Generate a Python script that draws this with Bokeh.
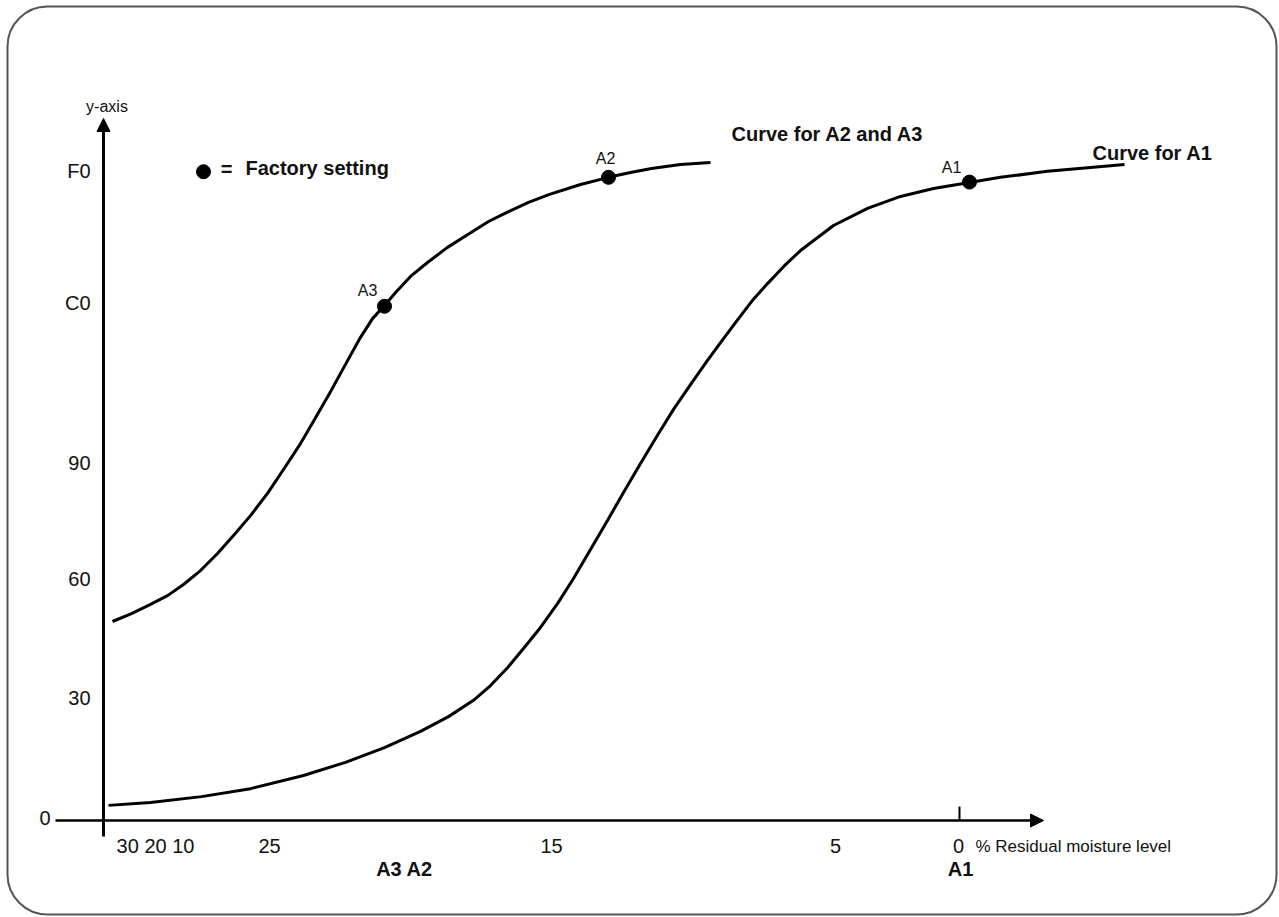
from bokeh.plotting import figure
from bokeh.models import Range1d, Arrow, NormalHead, ColumnDataSource
from bokeh.core.properties import value
from bokeh.embed import file_html
from bokeh.resources import INLINE

# ---------------- data (schematic units: x = position along axis, y = value) ----
curve_a23_x = [0.9, 2.8, 4.7, 6.4, 8.0, 9.7, 11.4, 13.0, 14.7, 16.4, 18.0, 19.7, 21.0,
               22.6, 24.2, 25.7, 26.9, 28.1, 29.3, 30.7, 32.4, 34.4, 36.4, 38.5, 40.5,
               42.5, 44.6, 47.7, 50.5, 52.7, 54.8, 57.7, 60.7]
curve_a23_y = [50.0, 52.0, 54.3, 56.5, 59.3, 62.8, 67.1, 71.6, 76.6, 82.2, 88.2, 94.7, 100.3,
               107.3, 114.6, 121.4, 126.1, 129.4, 132.9, 136.7, 140.2, 144.0, 147.2, 150.5, 153.0,
               155.3, 157.3, 159.8, 161.6, 162.8, 163.8, 164.8, 165.3]

curve_a1_x = [0.5, 4.7, 9.8, 14.7, 20.0, 24.2, 28.1, 31.7, 34.5, 37.0, 38.7, 40.4, 42.0,
              43.7, 45.4, 47.0, 48.7, 50.4, 52.0, 53.7, 55.4, 57.0, 58.7, 60.4, 62.0,
              63.5, 64.9, 66.4, 68.1, 69.7, 73.0, 76.4, 79.7, 83.0, 86.6, 89.7, 94.4,
              98.7, 102.1]
curve_a1_y = [3.8, 4.5, 6.0, 8.0, 11.3, 14.6, 18.3, 22.4, 26.1, 30.2, 33.9, 38.4, 43.2,
              48.5, 54.5, 60.8, 68.1, 75.4, 82.4, 89.7, 96.8, 103.3, 109.5, 115.6, 121.1,
              126.1, 130.7, 134.9, 139.4, 143.2, 149.5, 153.8, 156.8, 158.8, 160.3, 161.6, 163.1,
              164.1, 164.8]

setting_names = ["A3", "A2", "A1"]
setting_x = [28.1, 50.5, 86.6]
setting_y = [129.2, 161.6, 160.4]

y_tick_vals = [0.75, 30.9, 60.8, 89.9, 130.0, 163.3]
y_tick_labels = ["0", "30", "60", "90", "C0", "F0"]

x_tick_vals = [5.2, 16.6, 44.8, 73.2, 85.5]
x_tick_labels = ["30 20 10", "25", "15", "5", "0"]

X0, X1 = -10.3, 117.6
Y0, Y1 = (820 - 917) / 3.98, 820 / 3.98

FONT = value("Liberation Sans")
INK = "#111111"

p = figure(width=1279, height=917, x_range=Range1d(X0, X1), y_range=Range1d(Y0, Y1),
           min_border=0, toolbar_location=None, output_backend="svg")
p.axis.visible = False
p.grid.visible = False
p.outline_line_color = None
p.background_fill_color = "white"
p.border_fill_color = "white"

# rounded frame
p.quad(left=[-9.6], right=[117.3], top=[204.5], bottom=[-23.6], border_radius=40,
       fill_color=None, line_color="#555555", line_width=2)

# axes with arrows
p.add_layout(Arrow(end=NormalHead(size=13, fill_color="black", line_color="black", line_width=1),
                   x_start=0, y_start=-4.0, x_end=0, y_end=176.4,
                   line_width=3, line_color="black"))
p.add_layout(Arrow(end=NormalHead(size=13, fill_color="black", line_color="black", line_width=1),
                   x_start=-4.8, y_start=0, x_end=94.0, y_end=0,
                   line_width=2.5, line_color="black"))
p.segment(x0=[85.6], y0=[0], x1=[85.6], y1=[3.5], line_width=2, line_color="black")

# curves
p.line(curve_a23_x, curve_a23_y, line_width=3, line_color="black", line_join="round")
p.line(curve_a1_x, curve_a1_y, line_width=3, line_color="black", line_join="round")

# factory setting points
p.scatter(setting_x, setting_y, size=14, color="black")
p.text(x=[26.4, 50.2, 84.8], y=[133.2, 166.3, 164.1], text=setting_names,
       text_font=FONT, text_font_size="16px", text_color=INK,
       text_align="center", text_baseline="middle")

# y tick labels
src_y = ColumnDataSource(dict(x=[-5.3, -1.3, -1.3, -1.3, -1.3, -1.3], y=y_tick_vals, t=y_tick_labels))
p.text(x="x", y="y", text="t", source=src_y, text_font=FONT, text_font_size="20px",
       text_color=INK, text_align="right", text_baseline="middle")

# x tick labels
p.text(x=x_tick_vals, y=[-6.5] * len(x_tick_vals), text=x_tick_labels, text_font=FONT,
       text_font_size="20px", text_color=INK, text_align="center", text_baseline="middle")
p.text(x=[87.2], y=[-6.5], text=["% Residual moisture level"], text_font=FONT,
       text_font_size="17px", text_color=INK, text_align="left", text_baseline="middle")
p.text(x=[30.1, 85.7], y=[-12.1, -12.1], text=["A3 A2", "A1"], text_font=FONT,
       text_font_size="20px", text_font_style="bold", text_color=INK,
       text_align="center", text_baseline="middle")

# y-axis title
p.text(x=[0.35], y=[179.3], text=["y-axis"], text_font=FONT, text_font_size="16px",
       text_color=INK, text_align="center", text_baseline="middle")

# legend
p.scatter([10.0], [163.0], size=14, color="black")
p.text(x=[12.3], y=[163.6], text=["="], text_font=FONT, text_font_size="20px",
       text_font_style="bold", text_color=INK, text_align="center", text_baseline="middle")
p.text(x=[14.2], y=[164.0], text=["Factory setting"], text_font=FONT, text_font_size="20px",
       text_font_style="bold", text_color=INK, text_align="left", text_baseline="middle")

# curve titles
p.text(x=[62.8], y=[172.4], text=["Curve for A2 and A3"], text_font=FONT, text_font_size="20px",
       text_font_style="bold", text_color=INK, text_align="left", text_baseline="middle")
p.text(x=[98.9], y=[167.8], text=["Curve for A1"], text_font=FONT, text_font_size="20px",
       text_font_style="bold", text_color=INK, text_align="left", text_baseline="middle")

open("out.html", "w").write(file_html(p, INLINE))
